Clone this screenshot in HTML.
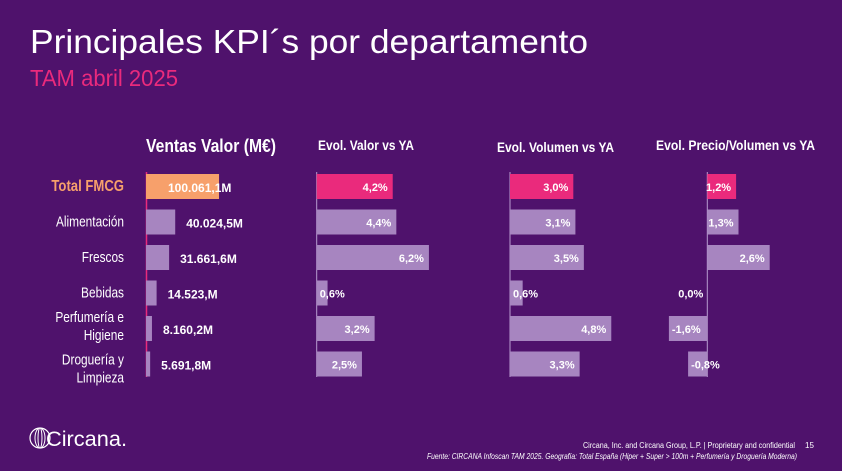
<!DOCTYPE html>
<html><head><meta charset="utf-8"><style>
html,body{margin:0;padding:0;background:#4f126c;}
svg{display:block}
text{font-family:"Liberation Sans",sans-serif;}
</style></head><body>
<svg id="c" width="842" height="471" viewBox="0 0 842 471" xmlns="http://www.w3.org/2000/svg">
<rect width="842" height="471" fill="#4f126c"/>
<text x="30" y="53" font-size="33" fill="#fff" textLength="558" lengthAdjust="spacingAndGlyphs">Principales KPI´s por departamento</text>
<text x="30" y="86" font-size="23" fill="#ea2a7c" textLength="148" lengthAdjust="spacingAndGlyphs">TAM abril 2025</text>
<text x="146" y="152" font-size="18" font-weight="bold" fill="#fff" textLength="130" lengthAdjust="spacingAndGlyphs">Ventas Valor (M€)</text>
<text x="318" y="150" font-size="13.5" font-weight="bold" fill="#fff" textLength="96" lengthAdjust="spacingAndGlyphs">Evol. Valor vs YA</text>
<text x="497" y="152" font-size="13.5" font-weight="bold" fill="#fff" textLength="117" lengthAdjust="spacingAndGlyphs">Evol. Volumen vs YA</text>
<text x="656" y="150" font-size="13.5" font-weight="bold" fill="#fff" textLength="159" lengthAdjust="spacingAndGlyphs">Evol. Precio/Volumen vs YA</text>
<g id="g"></g>
<g>
<circle cx="40" cy="438" r="10" fill="none" stroke="#fff" stroke-width="1.2"/>
<ellipse cx="40" cy="438" rx="5" ry="10" fill="none" stroke="#fff" stroke-width="1"/>
<ellipse cx="40" cy="438" rx="2" ry="10" fill="none" stroke="#fff" stroke-width="1"/>
<text x="46" y="446" font-size="21" fill="#fff" textLength="81" lengthAdjust="spacingAndGlyphs">Circana.</text>
</g>
<text x="583" y="448" font-size="8" fill="#fff" textLength="212" lengthAdjust="spacingAndGlyphs">Circana, Inc. and Circana Group, L.P. |  Proprietary and confidential</text>
<text x="805" y="448" font-size="8" fill="#fff">15</text>
<text x="427" y="459" font-size="8" font-style="italic" fill="#fff" textLength="370" lengthAdjust="spacingAndGlyphs">Fuente: CIRCANA Infoscan TAM 2025. Geografía: Total España (Hiper + Super &gt; 100m + Perfumería y Droguería Moderna)</text>
</svg>
<script>
const categories=["Total FMCG","Alimentación","Frescos","Bebidas","Perfumería e|Higiene","Droguería y|Limpieza"];
const ventas=[100061.1,40024.5,31661.6,14523,8160.2,5691.8];
const ventasLabels=["100.061,1M","40.024,5M","31.661,6M","14.523,M","8.160,2M","5.691,8M"];
const evolValor=[4.2,4.4,6.2,0.6,3.2,2.5];
const evolVolumen=[3.0,3.1,3.5,0.6,4.8,3.3];
const evolPrecio=[1.2,1.3,2.6,0.0,-1.6,-0.8];
const NS="http://www.w3.org/2000/svg",g=document.getElementById('g');
function el(t,a,p){const e=document.createElementNS(NS,t);for(const k in a)e.setAttribute(k,a[k]);(p||g).appendChild(e);return e;}
const rowY=i=>174+i*35.5, BH=25;
const fmt=v=>v.toFixed(1).replace('.',',')+'%';
const lg=el('g',{transform:'translate(124,0) scale(0.82,1)'});
categories.forEach((c,i)=>{
  const parts=c.split('|');
  const off=i==5?13:6;
  parts.forEach((p,j)=>{
    const t=el('text',{x:0,y:(parts.length>1?rowY(i)+off+j*18:rowY(i)+17),'font-size':i==0?16:14.5,'font-weight':i==0?'bold':'normal',fill:i==0?'#f7a06b':'#fff','text-anchor':'end'},lg);
    t.textContent=p;
    
    
  });
});
const vx=v=>146+v*0.00073;
el('line',{x1:146.5,y1:172,x2:146.5,y2:377,stroke:'#ea2a7c','stroke-width':1.5});
ventas.forEach((v,i)=>{
  const r=el('rect',{x:146,y:rowY(i),width:vx(v)-146,height:BH,fill:i==0?'#f7a06b':'#a785c0'});
  
  
  const t=el('text',{x:i==0?168:vx(v)+11,y:rowY(i)+18,'font-size':12,'font-weight':'bold',fill:'#fff'});
  t.textContent=ventasLabels[i];
  
  
});
function panel(data,x0,scale,name){
  el('line',{x1:x0,y1:172,x2:x0,y2:377,stroke:'#b89cd0','stroke-width':1});
  data.forEach((v,i)=>{
    const xe=x0+v*scale, xa=Math.min(x0,xe), w=Math.abs(xe-x0);
    const r=el('rect',{x:xa,y:rowY(i),width:Math.max(w,0.01),height:BH,fill:i==0?'#ea2a7c':'#a785c0'});
    
    
    let tx,anc;
    if(v<0){tx=xe+3;anc='start';}
    else if(w<25){tx=x0+(v==0?-4:3);anc=v==0?'end':'start';}
    else{tx=xe-5;anc='end';}
    const t=el('text',{x:tx,y:rowY(i)+17,'font-size':11,'font-weight':'bold',fill:'#fff','text-anchor':anc});
    t.textContent=fmt(v);
    
    
  });
}
panel(evolValor,316.7,18.1,'evol-valor');
panel(evolVolumen,510,21.1,'evol-volumen');
panel(evolPrecio,707.3,24,'evol-precio');
</script>
</body></html>
